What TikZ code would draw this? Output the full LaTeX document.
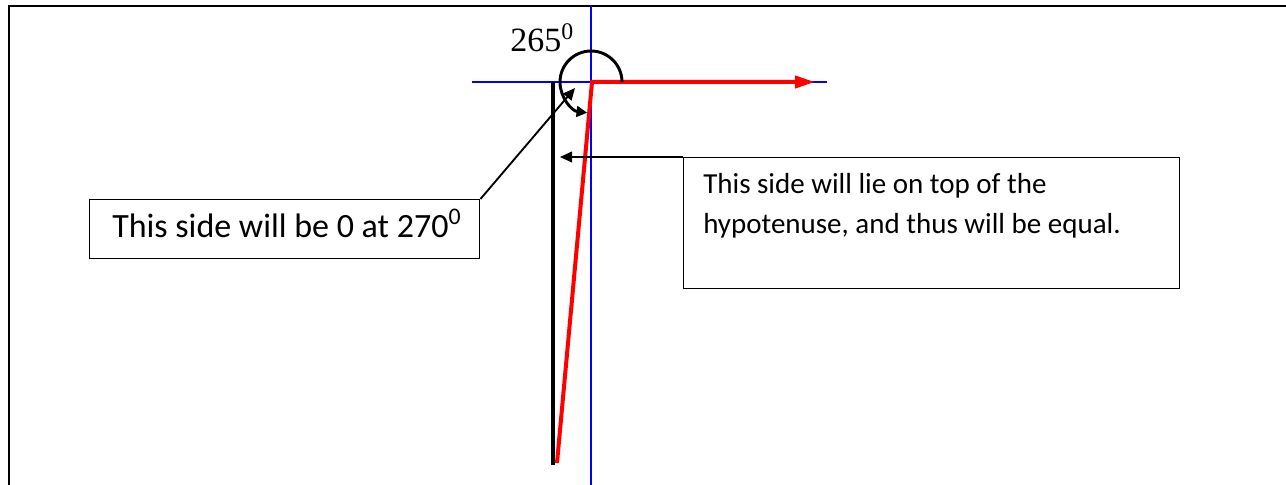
\documentclass[tikz,border=0pt]{standalone}
\usepackage{fontspec}
\setmainfont{Carlito}
\newfontfamily\timesfont{Liberation Serif}
\usetikzlibrary{arrows.meta}
\begin{document}
\begin{tikzpicture}[x=0.75pt,y=-0.75pt,
  framethick/.style={line width=1.9pt,black,line join=miter},
  framethin/.style={line width=0.8pt,black},
  axisline/.style={blue,line width=1pt},
  vecred/.style={red,line width=3pt,line join=miter,-{Triangle[length=15pt,width=9pt]}},
  sideline/.style={black,line width=3pt},
  anglearc/.style={black,line width=2.2pt,-{Triangle[length=8pt,width=8pt]}},
  callout/.style={black,line width=1.4pt,-{Triangle[length=9pt,width=8pt]}},
  boxstyle/.style={draw=black,line width=1.1pt,anchor=north west,inner sep=0pt},
  txt/.style={inner sep=0pt,anchor=base west}
]
\useasboundingbox (0,0) rectangle (1286,485);
% outer frame
\coordinate (fbl) at (9,485);
\coordinate (ftl) at (9,6);
\coordinate (fgl) at (472,6);
\coordinate (fgr) at (828,6);
\coordinate (fr) at (1286,6);
\draw[framethick] (fbl) -- (ftl) -- (fgl);
\draw[framethin] (fgl) -- (fgr);
\draw[framethick] (fgr) -- (fr);
% axes
\coordinate (O) at (591,82);
\coordinate (axl) at (472,82);
\coordinate (axr) at (827,82);
\coordinate (ayt) at (591,6);
\coordinate (ayb) at (591,485);
\draw[axisline] (axl) -- (axr);
\draw[axisline] (ayt) -- (ayb);
% black side
\coordinate (st) at (553,82);
\coordinate (sb) at (553,465);
\draw[sideline] (st) -- (sb);
% red vector
\coordinate (rb) at (557,463);
\coordinate (rc) at (592,82);
\coordinate (rt) at (815,82);
\draw[vecred] (rb) -- (rc) -- (rt);
% angle arc
\coordinate (arcstart) at (622,82);
\draw[anglearc] (arcstart) arc[start angle=0,end angle=263,radius=23.25pt];
\node[txt,font=\timesfont\fontsize{25.5pt}{28pt}\selectfont] (anglelbl) at (510,52) {265\textsuperscript{0}};
% left callout
\node[boxstyle,minimum width=292.5pt,minimum height=44.25pt] (lbox) at (89,199) {};
\coordinate (ltip) at (575,88);
\draw[callout] (lbox.north east) -- (ltip);
\node[txt,font=\fontsize{25.5pt}{30pt}\selectfont] (ltext) at (112,237) {This side will be 0 at 270\textsuperscript{0}};
% right callout
\node[boxstyle,minimum width=372pt,minimum height=98.25pt] (rbox) at (683,157) {};
\coordinate (rtip) at (560,157);
\draw[callout] (rbox.north west) -- (rtip);
\node[txt] (rtext) at (703,193) {\parbox[t]{380pt}{\fontsize{21.75pt}{30pt}\selectfont This side will lie on top of the\\ hypotenuse, and thus will be equal.}};
\end{tikzpicture}
\end{document}
